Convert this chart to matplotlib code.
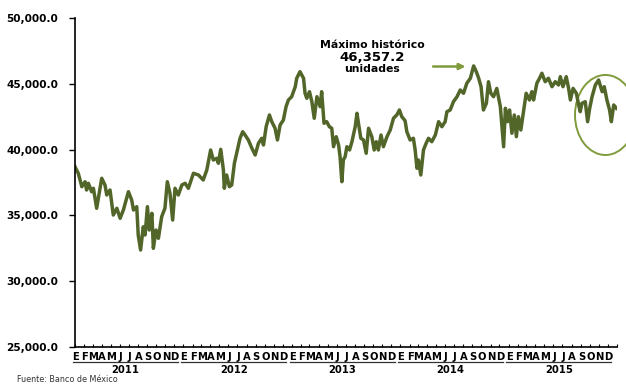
import matplotlib
matplotlib.use("Agg")
import matplotlib.pyplot as plt
import matplotlib.transforms as mtransforms
from matplotlib.patches import Ellipse
import pandas as pd

# ---- data ----
start_date = "2011-01-01"
days = [0, 11, 23, 34, 39, 45, 56, 62, 73, 90, 101, 107, 118, 129, 141, 152, 163, 180, 191, 197,
        208, 213, 221, 230, 236, 244, 250, 259, 264, 273, 281, 292, 303, 311, 320, 329, 337, 348, 360,
        371, 382, 399, 416, 432, 444, 457, 466, 478, 483, 491, 500, 503, 511, 520, 528, 537, 547, 556,
        565, 573, 584, 596, 607, 618, 629, 635, 644, 655, 663, 674, 682, 691, 702, 711, 719, 730, 742,
        747, 758, 770, 775, 781, 790, 798, 806, 815, 826, 831, 839, 848, 857, 865, 871, 880, 888, 893,
        899, 904, 910, 916, 925, 933, 944, 950, 955, 963, 972, 981, 989, 1000, 1008, 1015, 1022, 1031,
        1039, 1051, 1062, 1073, 1084, 1093, 1101, 1112, 1118, 1129, 1140, 1146, 1152, 1157, 1165, 1174,
        1183, 1191, 1202, 1214, 1225, 1236, 1247, 1253, 1264, 1275, 1287, 1298, 1309, 1320, 1332, 1343,
        1352, 1360, 1368, 1376, 1386, 1393, 1401, 1410, 1421, 1433, 1444, 1450, 1457, 1464, 1472, 1480,
        1487, 1494, 1502, 1511, 1520, 1531, 1539, 1545, 1556, 1565, 1573, 1584, 1595, 1607, 1618, 1629,
        1635, 1644, 1655, 1663, 1669, 1678, 1689, 1697, 1702, 1708, 1719, 1727, 1734, 1742, 1753, 1764,
        1776, 1783, 1792, 1801, 1807, 1815, 1824]
ipc = [38700, 38200, 37180, 37560, 36930, 37440, 36800, 37060, 35540, 37820, 37310, 36550, 36930,
       35030, 35540, 34780, 35410, 36800, 36170, 35410, 35660, 33510, 32370, 34140, 33510, 35660,
       33890, 35160, 32500, 33890, 33260, 34900, 35540, 37560, 36680, 34650, 37060, 36550, 37310,
       37440, 37060, 38200, 38070, 37690, 38450, 39970, 39210, 39340, 38960, 40020, 38450, 37060,
       38070, 37180, 37310, 38960, 39970, 40860, 41360, 41110, 40730, 40100, 39590, 40480, 40860,
       40350, 41740, 42630, 42120, 41620, 40730, 41870, 42250, 43260, 43770, 44020, 44780, 45420,
       45920, 45420, 44280, 43900, 44400, 43640, 42380, 44020, 43260, 44400, 42000, 42120, 41740,
       41620, 40220, 40980, 40350, 39460, 37560, 39210, 39460, 40220, 39970, 40600, 41740, 42760,
       42000, 40860, 40730, 39720, 41620, 40980, 39970, 40600, 39970, 41110, 40220, 40980, 41490,
       42380, 42630, 43010, 42500, 42200, 41360, 40730, 40860, 39970, 38580, 39210, 38070, 39970,
       40480, 40860, 40600, 41110, 42120, 41740, 42120, 42880, 43010, 43640, 44020, 44530, 44280,
       45040, 45420, 46357, 45920, 45420, 44780, 43010, 43520, 45160, 44280, 44020, 44650, 43260,
       40220, 43140, 42120, 43010, 41240, 42630, 40980, 42500, 41490, 42880, 44280, 43770, 44400,
       43770, 45040, 45420, 45800, 45160, 45420, 44780, 45160, 44910, 45540, 44780, 45540, 44650,
       43770, 44650, 44280, 43390, 42880, 43520, 43640, 42120, 43140, 44020, 44910, 45290, 44400,
       44780, 43770, 43010, 42120, 43390, 43140]
month_letters = ["E", "F", "M", "A", "M", "J", "J", "A", "S", "O", "N", "D"]
years = ["2011", "2012", "2013", "2014", "2015"]
y_ticks = [25000, 30000, 35000, 40000, 45000, 50000]
annot_lines = ["Máximo histórico", "46,357.2", "unidades"]
source = "Fuente: Banco de México"

# ---- figure ----
plt.rcParams['font.family'] = ['DejaVu Sans']
fig = plt.figure(figsize=(6.26, 3.85), dpi=100)
ax = fig.add_axes([75/626, 1-347/385, 542/626, 329/385])

t0 = pd.Timestamp(start_date)
month_starts = pd.date_range(start_date, "2016-01-01", freq="MS")
month_pos = [(d - t0).days for d in month_starts]

line_color = "#52662a"
accent = "#7f9b3c"
ax.plot(days, ipc, color=line_color, lw=2.5, solid_joinstyle="round")

ax.set_xlim(month_pos[0], month_pos[-1])
ax.set_ylim(y_ticks[0], y_ticks[-1])
ax.set_yticks(y_ticks)
ax.set_yticklabels([f"{v:,.1f}" for v in y_ticks], fontsize=7.6, fontweight="bold")
ax.tick_params(axis="y", direction="out", length=4, width=1, pad=8)
ax.set_xticks(month_pos)
ax.set_xticklabels([])
ax.tick_params(axis="x", direction="in", length=2.5, width=0.8)
for s in ["top", "right"]:
    ax.spines[s].set_visible(False)
ax.spines["left"].set_linewidth(1.2)
ax.spines["bottom"].set_linewidth(1.2)

trans = mtransforms.blended_transform_factory(ax.transData, ax.transAxes)
for yi, yr in enumerate(years):
    base = yi * 12
    for mi, letter in enumerate(month_letters):
        ax.text(month_pos[base + mi] + 2, -0.030, letter, transform=trans, ha="center", va="center",
                fontsize=7.2, fontweight="bold", clip_on=False)
    x0 = month_pos[base] - 8
    x1 = month_pos[base + 11] + 12
    ax.plot([x0, x1], [-0.047, -0.047], transform=trans, color="#333333", lw=0.9, clip_on=False)
    ax.text((x0 + x1) / 2, -0.070, yr, transform=trans, ha="center", va="center",
            fontsize=7.2, fontweight="bold", clip_on=False)

# annotation for the historic maximum
max_day = days[ipc.index(max(ipc))]
ax.text(1001, 47950, annot_lines[0], ha="center", va="center", fontsize=7.8, fontweight="bold")
ax.text(1001, 47020, annot_lines[1], ha="center", va="center", fontsize=9.5, fontweight="bold")
ax.text(1001, 46100, annot_lines[2], ha="center", va="center", fontsize=7.8, fontweight="bold")
ax.annotate("", xy=(max_day - 18, 46314), xytext=(1197, 46314),
            arrowprops=dict(arrowstyle="-|>", color=accent, lw=1.8, mutation_scale=9))

# ellipse highlight
ax.add_patch(Ellipse((1787, 42630), width=205, height=6080, fill=False, edgecolor=accent,
                     lw=1.4, clip_on=False))

fig.text(17/626, 1-384.5/385, source, fontsize=5.8, color="#333333", va="bottom", ha="left")

fig.savefig("out.png", dpi=100)
